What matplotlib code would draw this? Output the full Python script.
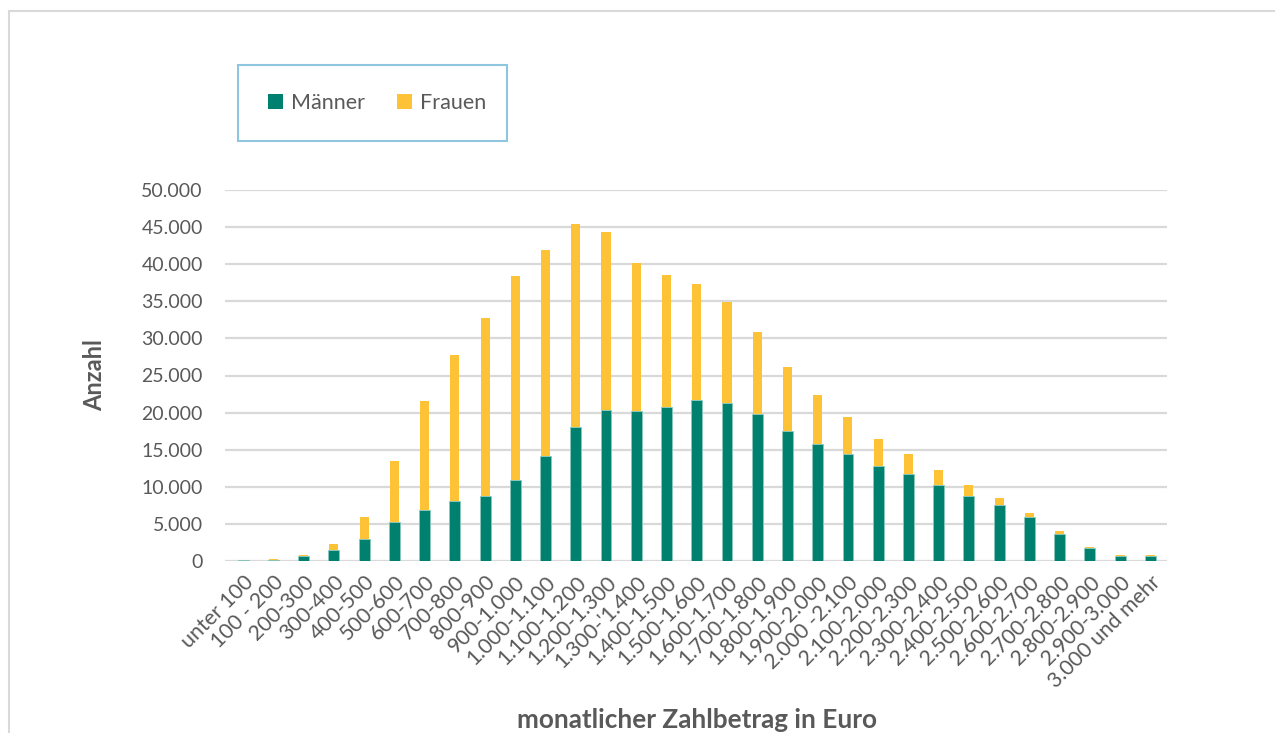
import matplotlib
matplotlib.use("Agg")
import matplotlib.pyplot as plt
from matplotlib.patches import Rectangle, Patch
from matplotlib.ticker import FuncFormatter, MultipleLocator

categories = ["unter 100", "100 - 200", "200-300", "300-400", "400-500", "500-600",
              "600-700", "700-800", "800-900", "900-1.000", "1.000-1.100", "1.100-1.200",
              "1.200-1.300", "1.300-'1.400", "1.400-1.500", "1.500-1.600", "1.600-1.700",
              "1.700-1.800", "1.800-1.900", "1.900-2.000", "2.000 -2.100", "2.100-2.000",
              "2.200-2.300", "2.300-2.400", "2.400-2.500", "2.500-2.600", "2.600-2.700",
              "2.700-2.800", "2.800-2.900", "2.900-3.000", "3.000 und mehr"]
maenner = [100, 200, 680, 1450, 2970, 5230, 6890, 8020, 8700, 10860, 14150, 18110,
           20360, 20180, 20810, 21710, 21350, 19870, 17570, 15810, 14460, 12790,
           11670, 10230, 8780, 7520, 5900, 3650, 1760, 680, 680]
frauen = [50, 50, 130, 800, 2980, 8240, 14640, 19780, 24100, 27520, 27790, 27300,
          23970, 19960, 17710, 15680, 13520, 10990, 8510, 6580, 5000, 3700,
          2700, 1980, 1450, 950, 590, 360, 130, 90, 130]

GREEN = "#00806E"
YELLOW = "#FEC236"
GRAY = "#595959"
FONT = "Lato"

W, H = 1275, 733
fig = plt.figure(figsize=(W / 100, H / 100), dpi=100)
plt.rcParams["font.family"] = [FONT, "DejaVu Sans"]

# outer frame
fig.patches.append(Rectangle((9 / W, -0.01), 1.2, 1 - 11 / H + 0.01, transform=fig.transFigure,
                             fill=False, edgecolor="#d9d9d9", linewidth=1.5))

ax = fig.add_axes([225 / W, 1 - 561 / H, (1167 - 225) / W, (561 - 190) / H])
x = list(range(len(categories)))
ax.bar(x, maenner, width=0.36, color=GREEN, edgecolor="#8cc9bd", linewidth=0.6, zorder=3)
ax.bar(x, frauen, bottom=maenner, width=0.3, color=YELLOW, linewidth=0, zorder=3)

ax.set_xlim(-0.6, len(categories) - 0.45)
ax.set_ylim(0, 50000)
ax.yaxis.set_major_locator(MultipleLocator(5000))
ax.yaxis.set_major_formatter(FuncFormatter(lambda v, p: f"{int(v):,}".replace(",", ".")))
ax.grid(axis="y", color="#d9d9d9", linewidth=1.6, zorder=0)
ax.set_axisbelow(True)
for s in ax.spines.values():
    s.set_visible(False)
ax.tick_params(axis="both", length=0, labelcolor=GRAY)
ax.tick_params(axis="y", pad=16, labelsize=14)
ax.set_xticks(x)
ax.set_xticklabels(categories, rotation=45, ha="right", rotation_mode="anchor", fontsize=15.3)
ax.tick_params(axis="x", pad=8)

fig.text(95 / W, 1 - 375 / H, "Anzahl", rotation=90, ha="center", va="center",
         fontsize=17, fontweight="bold", color=GRAY)
fig.text(697 / W, 1 - 720 / H, "monatlicher Zahlbetrag in Euro", ha="center", va="center",
         fontsize=18.8, fontweight="bold", color=GRAY)

# legend box
fig.patches.append(Rectangle((238 / W, 1 - 141 / H), (507 - 238) / W, (141 - 65) / H,
                             transform=fig.transFigure, fill=False, edgecolor="#8ec6e0",
                             linewidth=1.5))
handles = [Patch(facecolor=GREEN, label="Männer"), Patch(facecolor=YELLOW, label="Frauen")]
fig.legend(handles=handles, loc="center", bbox_to_anchor=(377 / W, 1 - 103 / H), ncol=2,
           frameon=False, fontsize=15.5, labelcolor=GRAY, handlelength=0.7, handleheight=0.7,
           handletextpad=0.35, columnspacing=1.5)

fig.savefig("out.png", dpi=100)
